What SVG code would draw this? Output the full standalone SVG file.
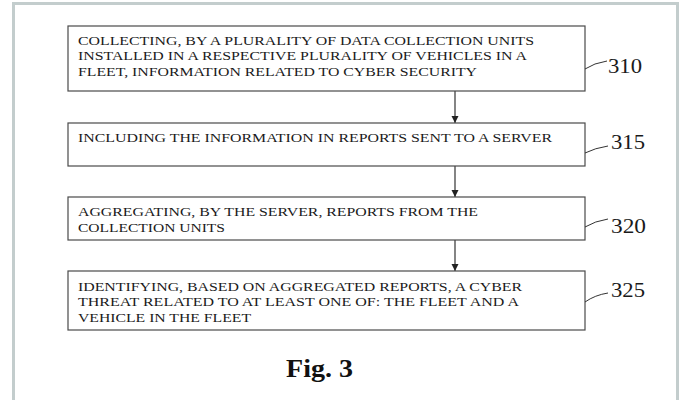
<svg xmlns="http://www.w3.org/2000/svg" width="679" height="400" viewBox="0 0 679 400">
<style>
.box{fill:#fff;stroke:#4a4a4a;stroke-width:1.2}
.t{font-family:'Liberation Serif','Times New Roman',serif;font-size:13px;fill:#1a1a1a}
.num{font-family:'Liberation Serif','Times New Roman',serif;font-size:20px;fill:#1a1a1a}
.lead{fill:none;stroke:#333;stroke-width:1}
.conn{stroke:#333;stroke-width:1.2;fill:none}
</style>
<defs>
<marker id="ah" markerWidth="8" markerHeight="8" refX="7" refY="4" orient="auto" markerUnits="userSpaceOnUse">
<path d="M0,0.5 L7,4 L0,7.5 Z" fill="#222"/>
</marker>
</defs>
<rect x="0" y="0" width="679" height="400" fill="#fff"/>
<path d="M13.5,410 V3.5 H677.5 V410" fill="none" stroke="#c3cdcd" stroke-width="3"/>
<g id="connectors">
<line class="conn" x1="455" y1="91" x2="455" y2="123" marker-end="url(#ah)"/>
<line class="conn" x1="455" y1="166" x2="455" y2="197" marker-end="url(#ah)"/>
<line class="conn" x1="455" y1="240" x2="455" y2="271" marker-end="url(#ah)"/>
</g>
<g id="n310">
<rect class="box" x="68" y="26" width="517" height="65"/>
<text class="t" x="78" y="45" textLength="456" lengthAdjust="spacingAndGlyphs">COLLECTING, BY A PLURALITY OF DATA COLLECTION UNITS</text>
<text class="t" x="78" y="60" textLength="449" lengthAdjust="spacingAndGlyphs">INSTALLED IN A RESPECTIVE PLURALITY OF VEHICLES IN A</text>
<text class="t" x="78" y="76" textLength="399" lengthAdjust="spacingAndGlyphs">FLEET, INFORMATION RELATED TO CYBER SECURITY</text>
<path class="lead" d="M585,69 Q594,63 607,61"/>
<text class="num" x="608" y="73" textLength="34" lengthAdjust="spacingAndGlyphs">310</text>
</g>
<g id="n315">
<rect class="box" x="68" y="123" width="517" height="43"/>
<text class="t" x="78" y="142" textLength="474" lengthAdjust="spacingAndGlyphs">INCLUDING THE INFORMATION IN REPORTS SENT TO A SERVER</text>
<path class="lead" d="M585,153 Q595,148 608,146"/>
<text class="num" x="611" y="149" textLength="34" lengthAdjust="spacingAndGlyphs">315</text>
</g>
<g id="n320">
<rect class="box" x="68" y="197" width="517" height="43"/>
<text class="t" x="78" y="216" textLength="400" lengthAdjust="spacingAndGlyphs">AGGREGATING, BY THE SERVER, REPORTS FROM THE</text>
<text class="t" x="78" y="232" textLength="147" lengthAdjust="spacingAndGlyphs">COLLECTION UNITS</text>
<path class="lead" d="M585,227 Q595,221 608,219"/>
<text class="num" x="611" y="233" textLength="35" lengthAdjust="spacingAndGlyphs">320</text>
</g>
<g id="n325">
<rect class="box" x="68" y="271" width="517" height="59"/>
<text class="t" x="78" y="291" textLength="444" lengthAdjust="spacingAndGlyphs">IDENTIFYING, BASED ON AGGREGATED REPORTS, A CYBER</text>
<text class="t" x="78" y="306" textLength="441" lengthAdjust="spacingAndGlyphs">THREAT RELATED TO AT LEAST ONE OF: THE FLEET AND A</text>
<text class="t" x="78" y="322" textLength="173" lengthAdjust="spacingAndGlyphs">VEHICLE IN THE FLEET</text>
<path class="lead" d="M585,302 Q595,295 608,293"/>
<text class="num" x="611" y="297" textLength="34" lengthAdjust="spacingAndGlyphs">325</text>
</g>
<text x="286" y="377" textLength="67" lengthAdjust="spacingAndGlyphs" font-family="'Liberation Serif','Times New Roman',serif" font-size="26" font-weight="bold" fill="#111">Fig. 3</text>
</svg>
